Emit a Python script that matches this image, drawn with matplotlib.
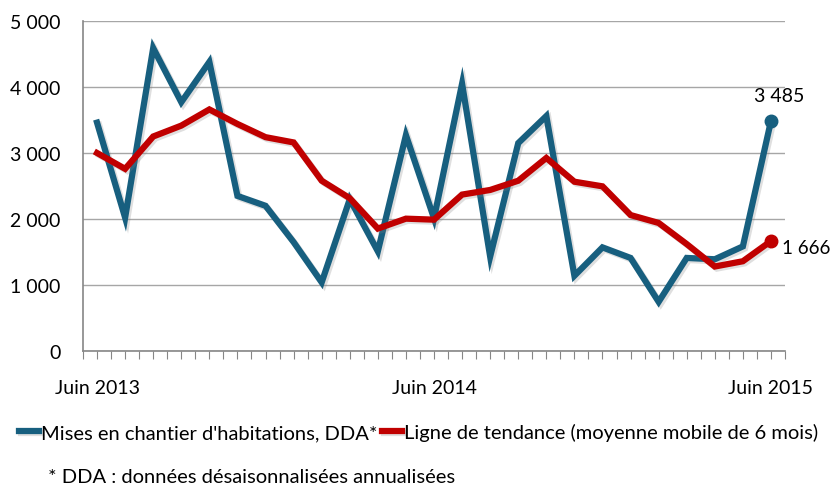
import matplotlib
matplotlib.use("Agg")
import matplotlib.pyplot as plt
import matplotlib.patheffects as pe
import numpy as np

plt.rcParams['font.family'] = ['Lato', 'DejaVu Sans']

months = list(range(25))
tick_labels = {0: "Juin 2013", 12: "Juin 2014", 24: "Juin 2015"}
mises = [3460, 2020, 4590, 3770, 4380, 2350, 2200, 1650, 1040, 2300, 1510, 3270,
         2010, 4050, 1430, 3150, 3560, 1140, 1570, 1410, 745, 1410, 1390, 1585, 3485]
tendance = [3000, 2760, 3250, 3415, 3660, 3440, 3240, 3160, 2580, 2315, 1855, 2005,
            1990, 2370, 2440, 2580, 2925, 2565, 2495, 2060, 1940, 1620, 1280, 1360, 1666]
yticks = [0, 1000, 2000, 3000, 4000, 5000]
ytick_labels = ["0", "1 000", "2 000", "3 000", "4 000", "5 000"]

blue = "#175F7F"
red = "#C00000"

fig = plt.figure(figsize=(8.37, 4.89), dpi=100)
ax = fig.add_axes([83/837, 1-352/489, (785-83)/837, (352-22)/489])

shadow = [pe.SimpleLineShadow(offset=(1.5, -1.5), alpha=0.25, shadow_color='gray'), pe.Normal()]
ax.plot(months, mises, color=blue, lw=4.5, solid_joinstyle='miter', path_effects=shadow, zorder=3,
        label="Mises en chantier d'habitations, DDA*")
ax.plot(months, tendance, color=red, lw=4.5, solid_joinstyle='miter', path_effects=shadow, zorder=3,
        label="Ligne de tendance (moyenne mobile de 6 mois)")
ax.plot(months[-1], mises[-1], 'o', color=blue, ms=9, zorder=4)
ax.plot(months[-1], tendance[-1], 'o', color=red, ms=9, zorder=4)
ax.annotate("3 485", (months[-1], mises[-1]), xytext=(-12, 12), textcoords='offset points',
            ha='left', va='bottom', fontsize=14)
ax.annotate("1 666", (months[-1], tendance[-1]), xytext=(8, -5), textcoords='offset points',
            ha='left', va='center', fontsize=13.5, annotation_clip=False)

ax.set_xlim(-0.5, 24.5)
ax.set_ylim(0, 5000)
ax.set_yticks(yticks)
ax.set_yticklabels(ytick_labels, fontsize=14)
xt = np.arange(-0.5, 24.51, 0.5)
ax.set_xticks(xt)
ax.set_xticklabels([tick_labels.get(int(t), "") if float(t).is_integer() else "" for t in xt],
                   fontsize=14)
ax.tick_params(axis='x', direction='out', length=6, color='#868686', pad=14)
ax.tick_params(axis='y', length=0, pad=16)
ax.grid(axis='y', color='#A6A6A6', lw=1)
ax.set_axisbelow(True)
for s in ['top', 'right']:
    ax.spines[s].set_visible(False)
ax.spines['left'].set_color('#868686')
ax.spines['bottom'].set_color('#868686')
ax.spines['left'].set_linewidth(1.2)
ax.spines['bottom'].set_linewidth(1.2)

fig.legend(loc='center', bbox_to_anchor=(0.5, 1-433/489), ncol=2, frameon=False, fontsize=14.5,
           handlelength=1.0, handletextpad=0.1, columnspacing=0.2, borderaxespad=0)
fig.text(48/837, 1-478/489, "* DDA : données désaisonnalisées annualisées", fontsize=14.5,
         ha='left', va='center')

fig.savefig("out.png", dpi=100)
